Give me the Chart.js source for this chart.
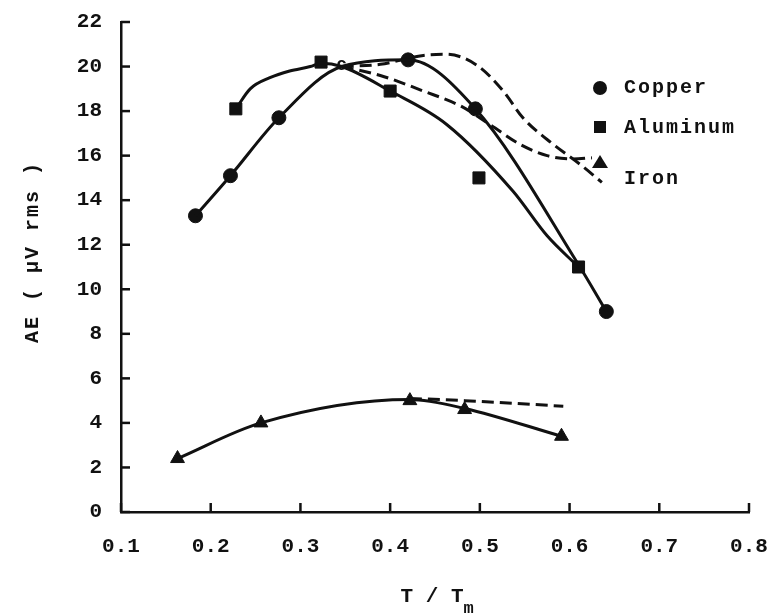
<!DOCTYPE html>
<html>
<head>
<meta charset="utf-8">
<script src="https://cdn.jsdelivr.net/npm/chart.js@4"></script>
<style>
html, body { margin: 0; padding: 0; background: #fff; }
</style>
</head>
<body>
<canvas id="myChart" width="775" height="615"></canvas>
<script>
'use strict';
// measured points (T/Tm , AE)
let copperT = [0.183, 0.222, 0.276, 0.420, 0.495, 0.641];
let copperAE = [13.3, 15.1, 17.7, 20.3, 18.1, 9.0];
let aluminumT = [0.228, 0.323, 0.400, 0.499, 0.610];
let aluminumAE = [18.1, 20.2, 18.9, 15.0, 11.0];
let ironT = [0.163, 0.256, 0.422, 0.483, 0.591];
let ironAE = [2.4, 4.0, 5.0, 4.6, 3.4];

// hand drawn curves
let copperFitT = [0.183, 0.222, 0.276, 0.346, 0.420, 0.495, 0.610, 0.641];
let copperFitAE = [13.3, 15.1, 17.7, 20.0, 20.3, 18.1, 11.1, 9.0];
let aluminumFitT = [0.228, 0.244, 0.266, 0.288, 0.311, 0.323, 0.346, 0.400, 0.463, 0.537, 0.575, 0.610];
let aluminumFitAE = [18.1, 19.0, 19.5, 19.8, 20.0, 20.15, 20.0, 18.9, 17.4, 14.4, 12.4, 11.0];
let upperDashT = [0.346, 0.389, 0.437, 0.463, 0.497, 0.526, 0.548, 0.582, 0.612, 0.636];
let upperDashAE = [20.0, 20.1, 20.5, 20.55, 20.05, 18.9, 17.7, 16.5, 15.6, 14.8];
let lowerDashT = [0.346, 0.389, 0.437, 0.480, 0.511, 0.545, 0.575, 0.604, 0.625];
let lowerDashAE = [20.0, 19.6, 18.9, 18.2, 17.4, 16.5, 16.0, 15.85, 15.9];
let ironFitT = [0.163, 0.256, 0.422, 0.483, 0.591];
let ironFitAE = [2.4, 4.0, 5.05, 4.65, 3.4];
let ironDashT = [0.422, 0.483, 0.593];
let ironDashAE = [5.1, 5.0, 4.75];

// the little "c" mark where the curves cross
let markT = [0.346];
let markAE = [20.0];

let xTicks = [0.1, 0.2, 0.3, 0.4, 0.5, 0.6, 0.7, 0.8];
let yTicks = [0, 2, 4, 6, 8, 10, 12, 14, 16, 18, 20, 22];
let legendNames = ['Copper', 'Aluminum', 'Iron'];

const ink = '#111';
const fam = "'Liberation Mono', 'DejaVu Sans Mono', monospace";
const tickFont = { family: fam, size: 21, weight: 'bold' };

function pts(xs, ys) {
    return xs.map((x, i) => ({ x: x, y: ys[i] }));
}

function curve(xs, ys, dashed) {
    return {
        data: pts(xs, ys),
        showLine: true,
        borderColor: ink,
        borderWidth: 3,
        borderDash: dashed ? [12, 6] : [],
        cubicInterpolationMode: 'monotone',
        pointRadius: 0,
        pointHoverRadius: 0
    };
}

function marks(xs, ys, style, r) {
    return {
        data: pts(xs, ys),
        showLine: false,
        pointStyle: style,
        pointRadius: r,
        pointBackgroundColor: ink,
        pointBorderColor: ink,
        pointBorderWidth: 1
    };
}

// inward tick marks on both axes
const innerTicks = {
    id: 'innerTicks',
    afterDraw(chart) {
        const ctx = chart.ctx;
        const xs = chart.scales.x, ys = chart.scales.y;
        ctx.save();
        ctx.strokeStyle = ink;
        ctx.lineWidth = 2.5;
        xs.ticks.forEach(t => {
            const px = xs.getPixelForValue(t.value);
            ctx.beginPath();
            ctx.moveTo(px, ys.bottom);
            ctx.lineTo(px, ys.bottom - 9);
            ctx.stroke();
        });
        yTicks.forEach(v => {
            const py = ys.getPixelForValue(v);
            ctx.beginPath();
            ctx.moveTo(xs.left, py);
            ctx.lineTo(xs.left + 9, py);
            ctx.stroke();
        });
        ctx.restore();
    }
};

// legend, "c" mark, axis titles
const extras = {
    id: 'extras',
    afterDraw(chart) {
        const ctx = chart.ctx;
        const xs = chart.scales.x, ys = chart.scales.y;
        ctx.save();
        ctx.fillStyle = ink;
        ctx.font = 'bold 18px ' + fam;
        ctx.textBaseline = 'middle';
        ctx.textAlign = 'center';
        ctx.fillText('c', xs.getPixelForValue(markT[0]), ys.getPixelForValue(markAE[0]) - 1);

        // legend
        const lx = 600;
        const rows = [88, 127, 163];
        ctx.beginPath();
        ctx.arc(lx, rows[0], 7, 0, Math.PI * 2);
        ctx.fill();
        ctx.fillRect(lx - 6, rows[1] - 6, 12, 12);
        ctx.beginPath();
        ctx.moveTo(lx, rows[2] - 8);
        ctx.lineTo(lx + 8, rows[2] + 5);
        ctx.lineTo(lx - 8, rows[2] + 5);
        ctx.closePath();
        ctx.fill();
        ctx.textAlign = 'left';
        ctx.font = 'bold 20px ' + fam;
        if ('letterSpacing' in ctx) ctx.letterSpacing = '2px';
        ctx.fillText(legendNames[0], 624, rows[0]);
        ctx.fillText(legendNames[1], 624, rows[1] + 1);
        ctx.fillText(legendNames[2], 624, rows[2] + 16);
        if ('letterSpacing' in ctx) ctx.letterSpacing = '0px';

        // x title  T / Tm
        ctx.font = 'bold 21px ' + fam;
        const main = 'T / T';
        const w = ctx.measureText(main).width;
        const cx = (xs.left + xs.right) / 2 + 2;
        ctx.fillText(main, cx - w / 2 - 5, 597);
        ctx.font = 'bold 17px ' + fam;
        ctx.fillText('m', cx + w / 2 - 5, 609);

        // y title
        ctx.translate(33, 252);
        ctx.rotate(-Math.PI / 2);
        ctx.textAlign = 'center';
        ctx.font = 'bold 20px ' + fam;
        if ('letterSpacing' in ctx) ctx.letterSpacing = '2px';
        ctx.fillText('AE ( \u03bcV rms )', 0, 0);
        ctx.restore();
    }
};

const ctx = document.getElementById('myChart').getContext('2d');
const myChart = new Chart(ctx, {
    type: 'scatter',
    data: {
        datasets: [
            curve(copperFitT, copperFitAE, false),
            curve(aluminumFitT, aluminumFitAE, false),
            curve(upperDashT, upperDashAE, true),
            curve(lowerDashT, lowerDashAE, true),
            curve(ironFitT, ironFitAE, false),
            curve(ironDashT, ironDashAE, true),
            marks(copperT, copperAE, 'circle', 7),
            marks(aluminumT, aluminumAE, 'rect', 8.5),
            marks(ironT, ironAE, 'triangle', 8)
        ]
    },
    options: {
        responsive: false,
        animation: false,
        layout: { padding: { top: 22, right: 26, left: 0, bottom: 0 } },
        plugins: {
            legend: { display: false },
            tooltip: { enabled: false }
        },
        scales: {
            x: {
                type: 'linear',
                min: xTicks[0],
                max: xTicks[xTicks.length - 1],
                afterBuildTicks: s => { s.ticks = xTicks.map(v => ({ value: v })); },
                afterFit: s => { s.height = 103; s.paddingRight = 0; s.paddingLeft = 0; },
                ticks: {
                    color: ink,
                    font: tickFont,
                    padding: 22,
                    maxRotation: 0,
                    callback: v => Number(v).toFixed(1)
                },
                grid: { drawOnChartArea: false, drawTicks: false },
                border: { color: ink, width: 2.5 }
            },
            y: {
                min: yTicks[0],
                max: yTicks[yTicks.length - 1],
                afterBuildTicks: s => { s.ticks = yTicks.map(v => ({ value: v })); },
                afterFit: s => { s.width = 121; s.paddingTop = 0; s.paddingBottom = 0; },
                ticks: {
                    color: ink,
                    font: tickFont,
                    padding: 19,
                    callback: v => String(v)
                },
                grid: { drawOnChartArea: false, drawTicks: false },
                border: { color: ink, width: 2.5 }
            }
        }
    },
    plugins: [innerTicks, extras]
});
</script>
</body>
</html>
